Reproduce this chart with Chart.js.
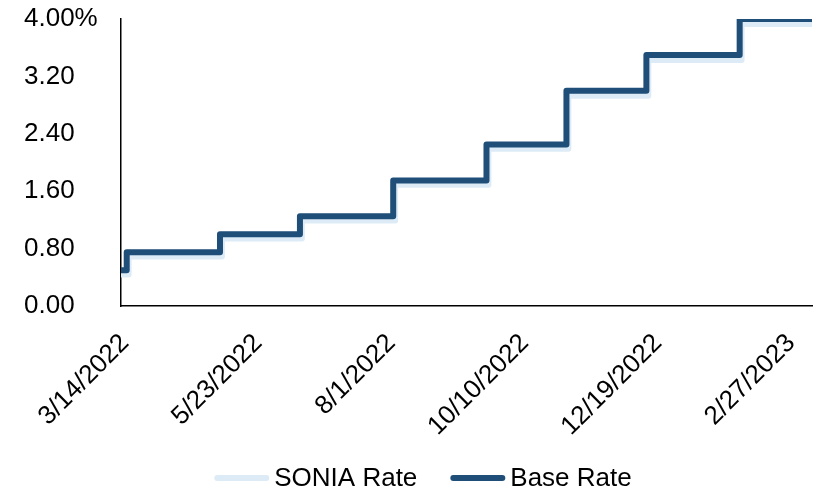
<!DOCTYPE html>
<html>
<head>
<meta charset="utf-8">
<script src="https://cdn.jsdelivr.net/npm/chart.js@4.4.1/dist/chart.umd.min.js"></script>
<style>
  html, body { margin: 0; padding: 0; background: #fff; }
  #wrap { width: 819px; height: 491px; }
</style>
</head>
<body>
<div id="wrap"><canvas id="c" width="819" height="491"></canvas></div>
<script>
// Bank of England Base Rate decisions (effective date, rate %)
const baseDates  = ['2022-03-14', '2022-03-17', '2022-05-05', '2022-06-16', '2022-08-04',
                    '2022-09-22', '2022-11-03', '2022-12-15', '2023-02-02', '2023-03-12'];
const baseValues = [0.50, 0.75, 1.00, 1.25, 1.75, 2.25, 3.00, 3.50, 4.00, 4.00];

// SONIA fixings following each decision (rate %)
const soniaDates  = ['2022-03-14', '2022-03-18', '2022-05-06', '2022-06-17', '2022-08-05',
                     '2022-09-23', '2022-11-04', '2022-12-16', '2023-02-03', '2023-03-12'];
const soniaValues = [0.44, 0.69, 0.94, 1.19, 1.69, 2.19, 2.93, 3.43, 3.93, 3.93];

// Dates labelled along the horizontal axis
const xTickLabels = ['3/14/2022', '5/23/2022', '8/1/2022', '10/10/2022', '12/19/2022', '2/27/2023'];

// Vertical axis ticks
const yTicks = [0, 0.8, 1.6, 2.4, 3.2, 4.0];

const DAY = 86400000;
const origin = Date.UTC(2022, 2, 14);
const isoToDay = s => { const [y, m, d] = s.split('-').map(Number); return Math.round((Date.UTC(y, m - 1, d) - origin) / DAY); };
const usToDay  = s => { const [m, d, y] = s.split('/').map(Number); return Math.round((Date.UTC(y, m - 1, d) - origin) / DAY); };
const dayToUs  = v => { const dt = new Date(origin + v * DAY); return (dt.getUTCMonth() + 1) + '/' + dt.getUTCDate() + '/' + dt.getUTCFullYear(); };

const basePts  = baseDates.map((d, i) => ({ x: isoToDay(d), y: baseValues[i] }));
const soniaPts = soniaDates.map((d, i) => ({ x: isoToDay(d), y: soniaValues[i] }));
const lastDay = Math.max(basePts[basePts.length - 1].x, soniaPts[soniaPts.length - 1].x);

const FONT = "'Liberation Sans', Arial, sans-serif";
const FONT_SIZE = 26;
const DARK = '#1F4E79';
const LIGHT = '#DDEBF7';

// Legend drawn below the axis: line swatch followed by the series name
const lineLegend = {
  id: 'lineLegend',
  afterDraw(chart) {
    const ctx = chart.ctx;
    const swatch = 55, gap = 5, itemGap = 33, cy = 478, centre = 423;
    ctx.save();
    ctx.font = FONT_SIZE + 'px ' + FONT;
    ctx.textBaseline = 'middle';
    ctx.textAlign = 'left';
    const items = chart.data.datasets.map(ds => ({ ds, w: ctx.measureText(ds.label).width }));
    const total = items.reduce((s, it) => s + swatch + gap + it.w, 0) + itemGap * (items.length - 1);
    let x = centre - total / 2;
    items.forEach(it => {
      ctx.strokeStyle = it.ds.borderColor;
      ctx.lineWidth = 6;
      ctx.lineCap = 'round';
      ctx.beginPath();
      ctx.moveTo(x + 3, cy);
      ctx.lineTo(x + swatch - 3, cy);
      ctx.stroke();
      ctx.fillStyle = '#000';
      ctx.fillText(it.ds.label, x + swatch + gap, cy + 1);
      x += swatch + gap + it.w + itemGap;
    });
    ctx.restore();
  }
};

new Chart(document.getElementById('c'), {
  type: 'line',
  data: {
    datasets: [
      {
        label: 'SONIA Rate',
        data: soniaPts,
        order: 2,            // drawn underneath the Base Rate line
        borderColor: LIGHT,
        backgroundColor: LIGHT,
        borderWidth: 6,
        stepped: true,
        pointRadius: 0,
        borderCapStyle: 'round',
        borderJoinStyle: 'round',
        fill: false
      },
      {
        label: 'Base Rate',
        data: basePts,
        order: 1,
        borderColor: DARK,
        backgroundColor: DARK,
        borderWidth: 6,
        stepped: true,
        pointRadius: 0,
        borderCapStyle: 'round',
        borderJoinStyle: 'round',
        fill: false
      }
    ]
  },
  options: {
    responsive: false,
    animation: false,
    layout: { padding: { left: 24, right: 7, top: 19, bottom: 0 } },
    plugins: {
      tooltip: { enabled: false },
      legend: { display: false }
    },
    scales: {
      x: {
        type: 'linear',
        min: 0,
        max: lastDay,
        grid: { display: false, drawTicks: false },
        border: { display: true, color: '#000', width: 1.5 },
        afterFit: s => { s.height = 185; s.paddingRight = 0; s.paddingLeft = 0; },
        afterBuildTicks: s => { s.ticks = xTickLabels.map(l => ({ value: usToDay(l) })); },
        ticks: {
          autoSkip: false,
          minRotation: 45,
          maxRotation: 45,
          padding: 22,
          labelOffset: 4,
          color: '#000',
          font: { family: FONT, size: FONT_SIZE },
          callback: v => dayToUs(v)
        }
      },
      y: {
        min: 0,
        max: 4,
        grid: { display: false, drawTicks: false },
        border: { display: true, color: '#000', width: 1.5 },
        afterFit: s => { s.width = 97; },
        afterBuildTicks: s => { s.ticks = yTicks.map(v => ({ value: v })); },
        ticks: {
          crossAlign: 'far',
          color: '#000',
          font: { family: FONT, size: FONT_SIZE },
          callback: v => (v === 4 ? v.toFixed(2) + '%' : v.toFixed(2))
        }
      }
    }
  },
  plugins: [lineLegend]
});
</script>
</body>
</html>
